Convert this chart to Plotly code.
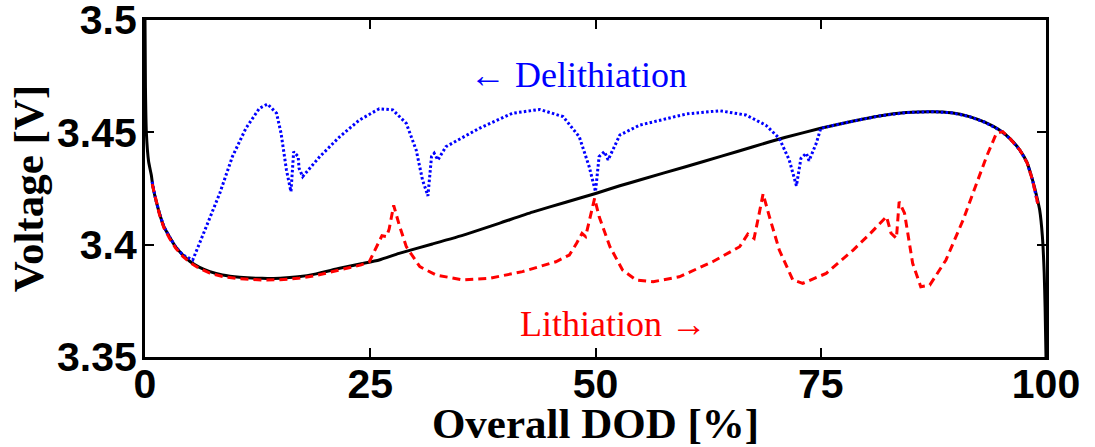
import plotly.graph_objects as go

# Equilibrium voltage curve (solid black)
eq_dod = [0, 0.05, 0.15, 0.4, 0.7, 0.87, 1.2, 1.6, 2.1, 2.7, 3.4, 4.2, 5.0, 6.0, 7.2,
          8.6, 10.5, 13.0, 15.0, 17.0, 19.0, 21.6, 24.0, 26.0, 28.2, 31.9, 35.6, 39.3,
          43.0, 46.7, 50.1, 52.7, 55.0, 60.0, 64.0, 67.5, 71.0, 75.0, 78.0, 81.5, 84.5,
          87.4, 89.5, 91.5, 93.2, 94.8, 96.0, 97.1, 97.9, 98.5, 99.0, 99.3, 99.6, 99.8,
          99.9, 100]
eq_volt = [3.500, 3.470, 3.450, 3.437, 3.431, 3.426, 3.420, 3.414, 3.408, 3.4036, 3.399,
           3.3954, 3.3925, 3.390, 3.388, 3.3865, 3.3855, 3.3850, 3.3851, 3.3857, 3.387,
           3.3895, 3.3915, 3.3932, 3.3961, 3.4003, 3.4046, 3.4095, 3.4145, 3.4189, 3.4229,
           3.4262, 3.4289, 3.4347, 3.4394, 3.4436, 3.4477, 3.4518, 3.4545, 3.4573, 3.4588,
           3.4592, 3.4587, 3.4570, 3.4545, 3.4511, 3.4472, 3.4421, 3.4365, 3.4288, 3.421,
           3.4154, 3.4036, 3.3874, 3.372, 3.350]

# Delithiation (blue dotted)
deli_dod = [0.8, 1.2, 1.6, 2.1, 2.7, 3.4, 4.2, 5.3, 6.8, 8.3, 9.7, 11.2, 12.7, 13.6, 14.6,
            15.1, 15.7, 16.2, 16.5, 17.0, 17.1, 17.5, 19.4, 21.6, 23.8, 26.0, 27.5, 29.0,
            30.1, 30.8, 31.4, 31.8, 32.1, 32.5, 33.4, 37.1, 40.8, 43.8, 46.4, 48.2, 49.3,
            50.0, 50.4, 51.0, 51.4, 52.7, 54.9, 56.4, 60.1, 63.8, 66.7, 68.9, 70.4, 71.5,
            72.3, 72.8, 73.4, 73.7, 74.5, 75.0, 78.0, 81.5, 84.5, 87.4, 89.5, 91.5, 93.2,
            94.8, 96.0, 97.1, 97.9, 98.5, 99.1]
deli_volt = [3.428, 3.420, 3.414, 3.408, 3.4036, 3.399, 3.3954, 3.3932, 3.408, 3.4229,
             3.4392, 3.4518, 3.4607, 3.4626, 3.4585, 3.4496, 3.4332, 3.4236, 3.4414, 3.4392,
             3.434, 3.4303, 3.4392, 3.448, 3.4555, 3.4605, 3.460, 3.454, 3.4421, 3.4288,
             3.4217, 3.4392, 3.4407, 3.4377, 3.4436, 3.4518, 3.4585, 3.4602, 3.457, 3.448,
             3.4347, 3.4236, 3.4392, 3.4414, 3.4377, 3.4488, 3.4532, 3.4547, 3.4582, 3.4596,
             3.4577, 3.4532, 3.4473, 3.4377, 3.4262, 3.4384, 3.4407, 3.4374, 3.4451, 3.4518,
             3.4545, 3.4573, 3.4588, 3.4592, 3.4587, 3.4570, 3.4545, 3.4511, 3.4472, 3.4421,
             3.4365, 3.4288, 3.418]

# Lithiation (red dashed)
lith_dod = [0.8, 1.2, 1.6, 2.1, 2.7, 3.4, 4.2, 5.0, 6.0, 7.2, 8.6, 10.5, 13.0, 15.0, 17.0,
            19.0, 21.6, 24.0, 24.9, 25.7, 26.3, 26.8, 27.1, 27.6, 28.2, 29.0, 30.5, 32.3,
            35.3, 38.2, 41.9, 45.6, 47.1, 47.9, 48.5, 48.9, 49.3, 49.9, 50.4, 51.6, 53.0,
            54.5, 56.4, 59.3, 63.0, 66.0, 66.9, 67.6, 68.1, 68.6, 69.3, 70.4, 71.9, 73.0,
            75.6, 78.6, 80.5, 82.3, 82.8, 83.4, 83.7, 84.3, 85.2, 86.1, 87.1, 88.9, 90.8,
            92.3, 93.4, 94.5, 95.2, 96.0, 97.1, 97.9, 98.5, 99.1]
lith_volt = [3.427, 3.4195, 3.4135, 3.4075, 3.403, 3.3985, 3.3948, 3.392, 3.3895, 3.3873,
             3.3858, 3.3848, 3.3843, 3.3844, 3.385, 3.3863, 3.3888, 3.3910, 3.3924, 3.3991,
             3.404, 3.4036, 3.407, 3.4175, 3.409, 3.3991, 3.3902, 3.3865, 3.3843, 3.385,
             3.388, 3.3924, 3.3954, 3.4006, 3.405, 3.4036, 3.411, 3.4206, 3.4125, 3.3991,
             3.3887, 3.3843, 3.3835, 3.3857, 3.3924, 3.3991, 3.4047, 3.4028, 3.4125, 3.4226,
             3.4125, 3.3976, 3.3843, 3.3828, 3.3872, 3.3976, 3.405, 3.4125, 3.4051, 3.4028,
             3.4191, 3.414, 3.3917, 3.3813, 3.382, 3.3932, 3.411, 3.4273, 3.4392, 3.4496,
             3.4503, 3.4472, 3.4421, 3.4365, 3.4288, 3.418]

x_ticks = [0, 25, 50, 75, 100]
y_ticks = [3.35, 3.4, 3.45, 3.5]
y_tick_text = ["3.35", "3.4", "3.45", "3.5"]

fig = go.Figure()
fig.add_trace(go.Scatter(x=eq_dod, y=eq_volt, mode="lines",
                         line=dict(color="black", width=3, shape="spline", smoothing=0.5)))
fig.add_trace(go.Scatter(x=deli_dod, y=deli_volt, mode="lines",
                         line=dict(color="#0000ff", width=3, dash="2.5px,2.3px")))
fig.add_trace(go.Scatter(x=lith_dod, y=lith_volt, mode="lines",
                         line=dict(color="#ff0000", width=3, dash="8px,5px")))

fig.add_annotation(x=48.1, y=3.4755, text="← Delithiation", showarrow=False,
                   font=dict(family="Liberation Serif", size=36, color="#0000ff"))
fig.add_annotation(x=52.0, y=3.3645, text="Lithiation →", showarrow=False,
                   font=dict(family="Liberation Serif", size=36, color="#ff0000"))

tick_font = dict(family="Liberation Sans", size=41, color="black", weight="bold")
title_font = dict(family="Liberation Serif", size=43, color="black", weight="bold")

fig.update_layout(
    width=1095, height=447,
    margin=dict(l=145, r=49, t=20, b=90),
    paper_bgcolor="white", plot_bgcolor="white",
    showlegend=False,
    xaxis=dict(range=[0, 100], tickvals=x_ticks, ticktext=[str(t) for t in x_ticks],
               ticks="inside", ticklen=9, tickwidth=2, tickcolor="black",
               showline=True, linewidth=3, linecolor="black", mirror="ticks",
               showgrid=False, zeroline=False, tickfont=tick_font,
               ticklabelstandoff=-11, ticklabeloverflow="allow",
               title=dict(text="Overall DOD [%]", font=title_font, standoff=2),
               automargin=False),
    yaxis=dict(range=[3.35, 3.5], tickvals=y_ticks, ticktext=y_tick_text,
               ticks="inside", ticklen=9, tickwidth=2, tickcolor="black",
               showline=True, linewidth=3, linecolor="black", mirror="ticks",
               showgrid=False, zeroline=False, tickfont=tick_font,
               ticklabelstandoff=-3, ticklabeloverflow="allow",
               title=dict(text="Voltage [V]", font=title_font, standoff=0),
               automargin=False),
)

fig.write_html("out.html")
